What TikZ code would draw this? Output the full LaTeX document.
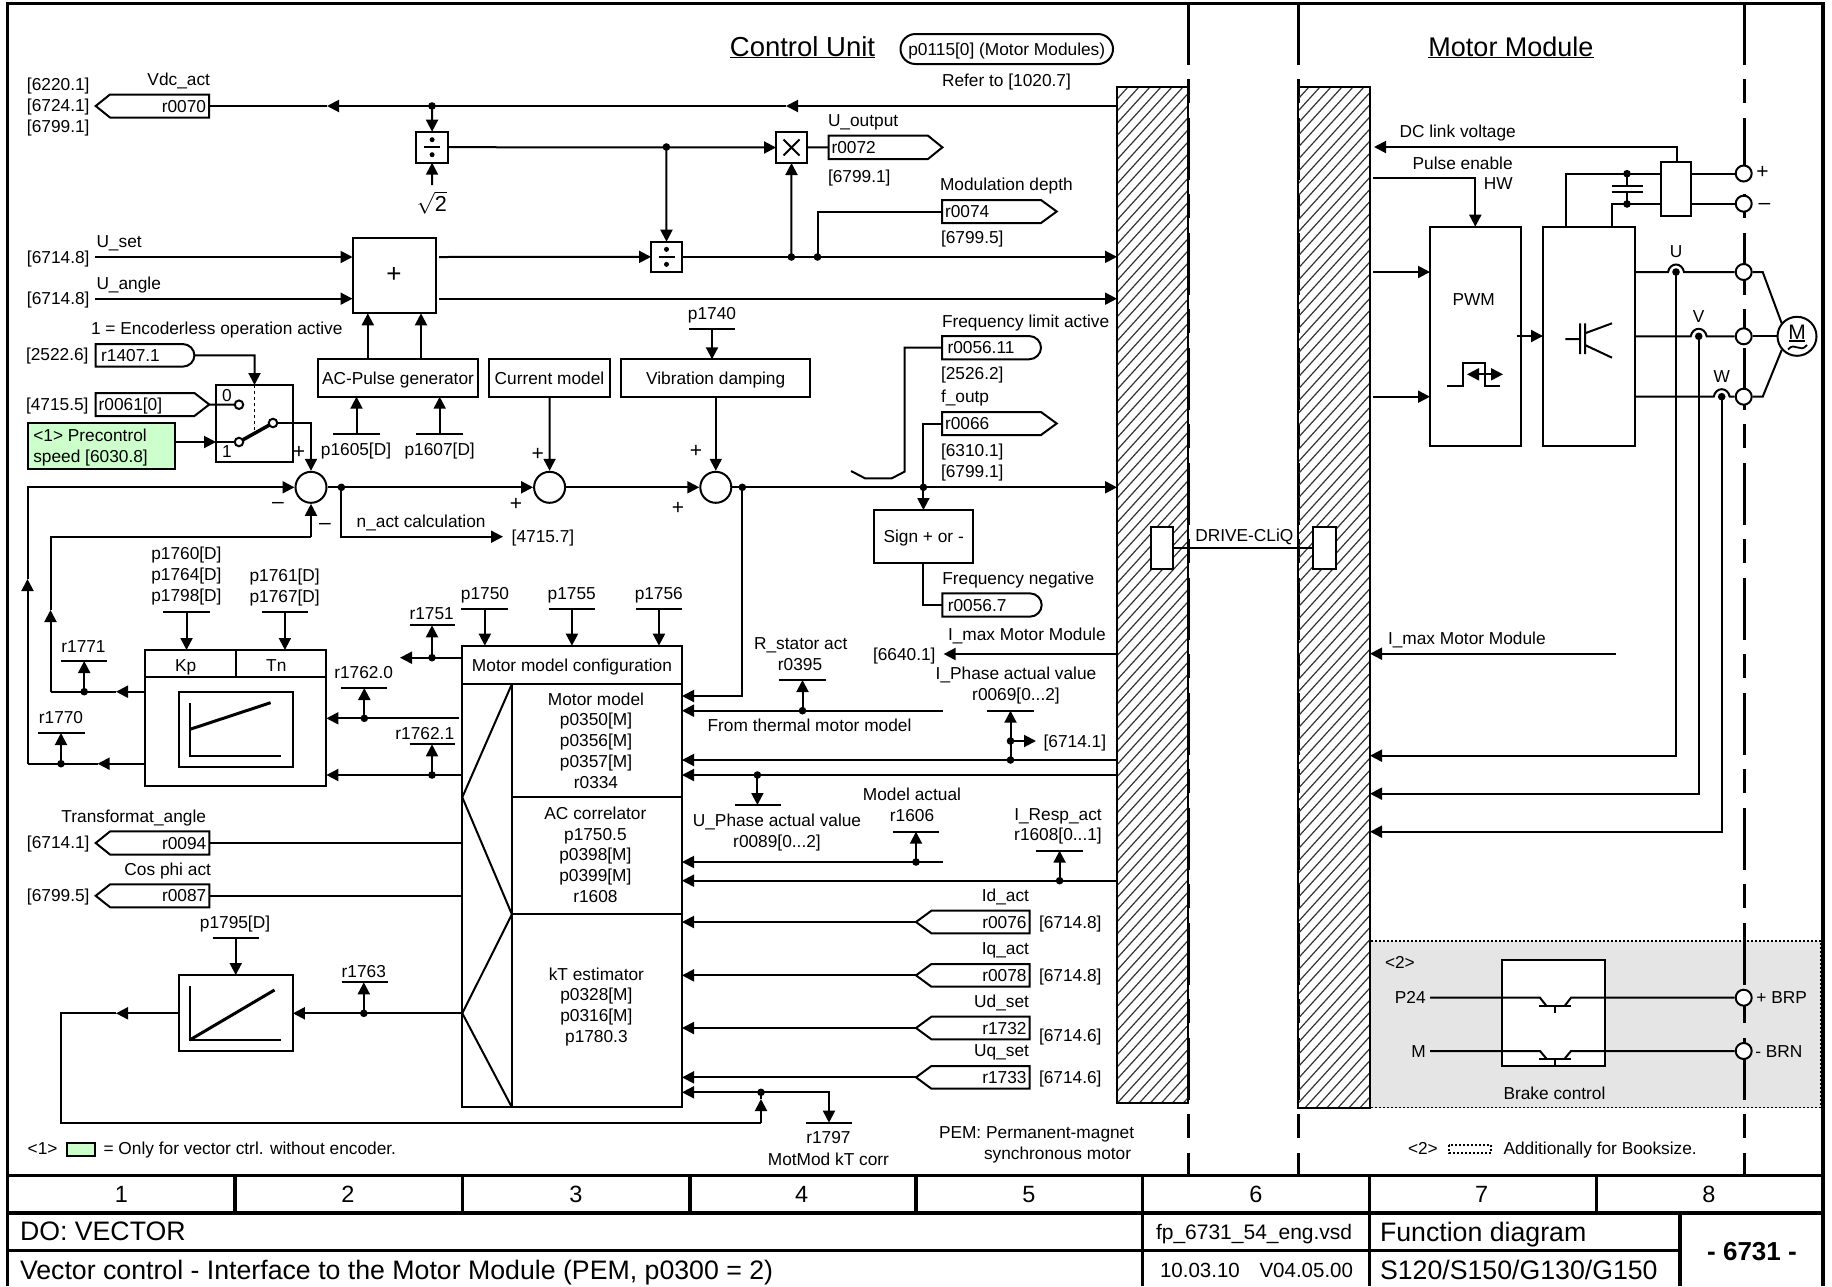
\documentclass[tikz,border=0pt]{standalone}
\usepackage{fontspec}
\setmainfont{Liberation Sans}
\usetikzlibrary{arrows.meta,calc}
\definecolor{grn}{HTML}{CCFFCC}
\definecolor{brk}{HTML}{E5E5E5}
\newcommand\fs{\fontsize{17.3}{20}\selectfont}
\tikzset{
 ln/.style={line width=2pt},
 arr/.style={ln,-{Triangle[length=12pt,width=12pt]}},
 bxs/.style={draw,line width=2pt,fill=white,inner sep=0pt,outer sep=0pt,align=center,font=\fs,text height=12pt,text depth=0pt},
 lbl/.style={font=\fs,inner sep=0pt,outer sep=0pt,text height=12pt,text depth=0pt},
 l/.style={lbl,anchor=west},
 r/.style={lbl,anchor=east},
 sgn/.style={lbl,font=\fontsize{21}{24}\selectfont,text height=14pt},
 ttl/.style={lbl,font=\fontsize{26.7}{30}\selectfont,text height=19pt},
 num/.style={lbl,font=\fontsize{23.5}{28}\selectfont,text height=17pt},
 fr/.style={line width=3.4pt},
 dd/.style={line width=3pt,dash pattern=on 62pt off 14pt on 24pt off 15pt},
 term/.style={circle,draw,line width=2pt,fill=white,minimum size=16pt,inner sep=0pt},
 cont/.style={circle,draw,line width=2pt,fill=white,minimum size=8.5pt,inner sep=0pt},
 sumn/.style={circle,draw,line width=2pt,fill=white,minimum size=31pt,inner sep=0pt},
 hatchl/.style={line width=1.2pt,black!80},
 dotb/.style={line width=1.5pt,dash pattern=on 2pt off 2pt},
}
\newcommand\bx[7][]{\pgfmathsetmacro\cx{(#3+#5)/2}\pgfmathsetmacro\cy{(#4+#6)/2}\pgfmathsetmacro\bw{abs(#5-#3)}\pgfmathsetmacro\bh{abs(#6-#4)}\node[bxs,minimum width=\bw pt,minimum height=\bh pt,#1] (#2) at (\cx,\cy) {#7};}
\newcommand\lb[5][]{\node[lbl,#1] (#2) at (#3,#4) {#5};}
\newcommand\cc[3]{\coordinate (#1) at (#2,#3);}
\newcommand\jn[3]{\coordinate (#1) at (#2,#3);\fill (#1) circle (3.8pt);}
\newcommand\parm[4]{\draw[ln] (#2,#4)--(#3,#4);\coordinate (#1) at ($(#2,#4)!.5!(#3,#4)$);}
% left tag: name tip shoulder right y1 y2 text
\newcommand\tagL[7]{\pgfmathsetmacro\mm{(#5+#6)/2}\draw[ln,fill=white] (#2,\mm)--(#3,#5)--(#4,#5)--(#4,#6)--(#3,#6)--cycle;\coordinate (#1-tip) at (#2,\mm);\coordinate (#1-e) at (#4,\mm);\node[r] (#1) at (#4-3,\mm) {#7};}
\newcommand\tagR[7]{\pgfmathsetmacro\mm{(#5+#6)/2}\draw[ln,fill=white] (#4,\mm)--(#3,#5)--(#2,#5)--(#2,#6)--(#3,#6)--cycle;\coordinate (#1-tip) at (#4,\mm);\coordinate (#1-w) at (#2,\mm);\node[l] (#1) at (#2+3,\mm) {#7};}
\newcommand\tagO[6]{\pgfmathsetmacro\mm{(#4+#5)/2}\draw[ln,fill=white] (#2,#4)--(#3-12,#4) .. controls (#3-5,#4) and (#3,\mm-6) .. (#3,\mm) .. controls (#3,\mm+6) and (#3-5,#5) .. (#3-12,#5)--(#2,#5)--cycle;\coordinate (#1-e) at (#3,\mm);\coordinate (#1-w) at (#2,\mm);\node[l] (#1) at (#2+5.5,\mm) {#6};}
\begin{document}
\begin{tikzpicture}[x=1pt,y=-1pt]
\useasboundingbox (0,0) rectangle (1832,1286);
\fill[white] (0,0) rectangle (1832,1286);
% brake area
\fill[brk] (1370,941) rectangle (1821,1107.7);
\draw[dotb] (1370,941) rectangle (1821,1107.7);
% separators
\draw[dd] (1188,3)--(1188,1176);
\draw[dd] (1298,3)--(1298,1176);
\draw[dd] (1744,3)--(1744,1176);
% hatched bars
\begin{scope}\clip (1117,87) rectangle (1188,1103);
\foreach \i [evaluate=\i as \yy using 87+12.1*\i] in {0,...,95} \draw[hatchl] (1117,\yy)--(1197,\yy-88);
\end{scope}
\begin{scope}\clip (1298,87) rectangle (1370,1107.7);
\foreach \i [evaluate=\i as \yy using 87+12.1*\i] in {0,...,95} \draw[hatchl] (1298,\yy)--(1378,\yy-88);
\end{scope}
\bx[fill=none]{barL}{1117}{87}{1188}{1103}{}
\bx[fill=none]{barR}{1298}{87}{1370}{1107.7}{}
% frame and title block
\draw[fr] (7.5,1286)--(7.5,3.5)--(1823,3.5)--(1823,1286);
\draw[fr] (7.5,1175.7)--(1823,1175.7) (7.5,1213)--(1823,1213) (7.5,1250.7)--(1680,1250.7);
\draw[fr] (235,1175.7)--(235,1213) (462.5,1175.7)--(462.5,1213) (690,1175.7)--(690,1213) (916,1175.7)--(916,1213) (1596.7,1175.7)--(1596.7,1213);
\draw[fr] (1142.5,1175.7)--(1142.5,1286) (1369.5,1175.7)--(1369.5,1286) (1680,1213)--(1680,1286);
\lb[num]{n1}{121.4}{1194}{1}\lb[num]{n2}{348}{1194}{2}\lb[num]{n3}{576}{1194}{3}\lb[num]{n4}{801.6}{1194}{4}\lb[num]{n5}{1029}{1194}{5}\lb[num]{n6}{1256}{1194}{6}\lb[num]{n7}{1481.6}{1194}{7}\lb[num]{n8}{1709}{1194}{8}
\lb[ttl,anchor=west]{tDO}{20}{1231}{DO: VECTOR}
\lb[ttl,anchor=west]{tVC}{20}{1269.5}{Vector control - Interface to the Motor Module (PEM, p0300 = 2)}
\lb[lbl,font=\fontsize{21}{24}\selectfont,text height=15pt,anchor=west]{tFile}{1156}{1232}{fp\_6731\_54\_eng.vsd}
\lb[lbl,font=\fontsize{20.5}{24}\selectfont,text height=15pt,anchor=west]{tDate}{1160}{1270}{10.03.10}
\lb[lbl,font=\fontsize{20.5}{24}\selectfont,text height=15pt,anchor=east]{tVer}{1353}{1270}{V04.05.00}
\lb[ttl,anchor=west]{tFD}{1380}{1231.5}{Function diagram}
\lb[ttl,anchor=west]{tS}{1380}{1269.5}{S120/S150/G130/G150}
\lb[ttl,font=\fontsize{26}{28}\selectfont\bfseries]{tNo}{1752}{1250.7}{- 6731 -}
% headings
\lb[lbl,font=\fontsize{27.5}{30}\selectfont,text height=20pt]{hCU}{802.5}{46}{\underline{Control Unit}}
\lb[lbl,font=\fontsize{27}{30}\selectfont,text height=20pt]{hMM}{1511}{46}{\underline{Motor Module}}
\bx[rounded corners=15pt]{pill}{900.5}{34}{1113}{64}{p0115[0] (Motor Modules)}
\lb{refer}{1006.5}{80}{Refer to [1020.7]}
\lb[l]{lg1}{27.7}{1148.3}{<1>}
\bx[fill=grn]{lgG}{67.4}{1143.3}{94.6}{1155.7}{}
\lb[l]{lg1t}{103.6}{1148.3}{= Only for vector ctrl. without encoder.}
\lb[l]{lg2}{1408}{1148}{<2>}
\draw[dotb] (1448.8,1145) rectangle (1491,1153);
\lb[l]{lg2t}{1503.5}{1148}{Additionally for Booksize.}
\lb[l]{pem1}{939}{1132.3}{PEM: Permanent-magnet}
\lb[l]{pem2}{984}{1153.3}{synchronous motor}
% ---- Vdc branch
\tagL{r70}{95.7}{110}{209}{94.5}{117.5}{r0070}
\lb[l]{s1}{27}{84}{[6220.1]}\lb[l]{s2}{27}{105}{[6724.1]}\lb[l]{s3}{27}{126}{[6799.1]}
\lb[r]{vdc}{210}{79}{Vdc\_act}
\bx{divA}{416.4}{131.7}{447.8}{162.7}{}
\bx{mulX}{776}{132}{807}{163}{}
\bx{divB}{651}{241.7}{682}{272}{}
\draw[ln,shorten <=0pt] ($(mulX.center)+(-8,-8)$)--($(mulX.center)+(8,8)$) ($(mulX.center)+(-8,8)$)--($(mulX.center)+(8,-8)$);
\foreach \d in {divA,divB} {\draw[ln] ($(\d.center)+(-8,0)$)--($(\d.center)+(8,0)$);\fill ($(\d.center)+(0,-7.5)$) circle (2.5pt) ($(\d.center)+(0,7.5)$) circle (2.5pt);}
\jn{dVdc}{432}{106}
\cc{mA}{786}{106}\cc{mB}{327}{106}
\draw[arr] (barL.west |- dVdc)--(mA);\draw[arr] (mA)--(mB);\draw[ln] (mB)--(r70-e);
\draw[arr] (dVdc)--(divA.north);
\cc{sq}{432}{185}
\draw[arr] (sq)--(divA.south);
\lb[scale=1.25]{sq2}{432}{204}{$\sqrt{\mbox{2}}$}
\jn{dDiv}{666.4}{147}
\draw[arr] (divA.east)--(mulX.west);
\draw[arr] (dDiv)--(divB.north);
\tagR{r72}{828.5}{928}{942.4}{135.7}{159}{r0072}
\draw[ln] (mulX.east)--(r72-w);
\lb[l]{uout}{828}{120}{U\_output}
\lb[l]{uoutr}{828}{176.7}{[6799.1]}
% ---- plus block
\bx{plusB}{352.5}{238}{436}{313.3}{}
\lb[lbl,font=\fontsize{26}{28}\selectfont]{plusT}{394}{276}{+}
\cc{us}{95}{257}\cc{ua}{95}{298.7}
\draw[arr] (us)--(us -| plusB.west);
\draw[arr] (ua)--(ua -| plusB.west);
\lb[l]{us1}{27}{257}{[6714.8]}\lb[l]{ua1}{27}{298}{[6714.8]}
\lb[l]{us2}{96.5}{241}{U\_set}\lb[l]{ua2}{96.5}{283}{U\_angle}
\cc{pe1}{439}{257}\cc{pe2}{439}{298.7}
\draw[arr] (pe1)--(divB.west);
\draw[arr] (pe2)--(pe2 -| barL.west);
\jn{dU1}{791.4}{257}\jn{dU2}{817.5}{257}
\draw[arr] (divB.east)--(divB.east -| barL.west);
\draw[arr] (dU1)--(mulX.south);
\tagR{r74}{942}{1041}{1056.7}{200}{223}{r0074}
\draw[ln] (dU2)--(dU2 |- r74-w)--(r74-w);
\lb[l]{md}{940}{184}{Modulation depth}
\lb[l]{mdr}{941}{237.7}{[6799.5]}
% ---- switch
\lb[l]{enc}{91}{328}{1 = Encoderless operation active}
\lb[l]{r14a}{26}{354}{[2522.6]}
\tagO{r14}{95.7}{194.4}{344}{366.7}{r1407.1}
\lb[l]{r61a}{26}{404}{[4715.5]}
\tagR{r61}{95.7}{194.4}{209.3}{393}{416}{r0061[0]}
\bx{sw}{216}{385}{292.8}{461.7}{}
\lb{sw0}{227}{395}{0}\lb{sw1}{227}{451.7}{1}
\draw[arr] (r14-e)--(254.5,355.35)--(sw.north -| 254.5,0);
\draw[line width=1.5pt,dashed] (sw.north -| 254.5,0)--(254.5,430);
\cc{cUp}{239}{404.7}\cc{cLow}{239}{442}\cc{cPiv}{273}{423}
\bx[fill=grn,text height=0pt]{green}{27.5}{423}{175.3}{469}{}
\lb[l]{gr1}{33.3}{435}{<1> Precontrol}\lb[l]{gr2}{33.3}{456}{speed [6030.8]}
\draw[ln] (r61-tip)--(cUp);
\draw[arr] (green.east |- cLow)--(sw.west |- cLow);
\draw[ln] (sw.west |- cLow)--(cLow);
\draw[line width=3.5pt] (cLow)--(cPiv);
\node[cont] (kUp) at (cUp) {};\node[cont] (kLow) at (cLow) {};\node[cont] (kPiv) at (cPiv) {};
\lb[sgn]{swp}{299}{451.7}{+}
% ---- sums
\node[sumn] (sumA) at (311,487.3) {};
\node[sumn] (sumB) at (549.6,487.3) {};
\node[sumn] (sumC) at (715.8,487.3) {};
\draw[arr] (kPiv)--(kPiv -| sumA)--(sumA.north);
\bx{acp}{318.4}{359.3}{477.6}{396.7}{AC-Pulse generator}
\bx{cur}{489}{359.3}{610}{396.7}{Current model}
\bx{vib}{621}{359.3}{810.4}{396.7}{Vibration damping}
\draw[arr] (367.8,359.3)--(367.8,313.3);
\draw[arr] (421,359.3)--(421,313.3);
\parm{b1605}{333}{380}{434}\parm{b1607}{416.4}{463}{434}
\draw[arr] (b1605)--(b1605 |- acp.south);\draw[arr] (b1607)--(b1607 |- acp.south);
\lb{t1605}{356}{449}{p1605[D]}\lb{t1607}{439.7}{449}{p1607[D]}
\draw[arr] (cur.south)--(sumB.north);
\parm{b1740}{689}{735}{329}
\lb{t1740}{712}{313}{p1740}
\draw[arr] (b1740)--(b1740 |- vib.north);
\draw[arr] (vib.south -| sumC)--(sumC.north);
\lb[sgn]{pB}{537.7}{453}{+}\lb[sgn]{pB2}{516}{503}{+}\lb[sgn]{pC}{696}{450}{+}\lb[sgn]{pC2}{678}{507}{+}
\lb[sgn]{mA1}{278}{501.7}{--}\lb[sgn]{mA2}{325}{522}{--}
\jn{dN}{341.4}{487.3}\jn{dSc}{742.3}{487.3}\jn{dOut}{923.4}{487.3}
\draw[ln] (sumA.east)--(dN);\draw[arr] (dN)--(sumB.west);
\draw[arr] (sumB.east)--(sumC.west);
\draw[arr] (sumC.east)--(sumC.east -| barL.west);
\cc{na}{341.4}{536.7}\cc{naT}{503}{536.7}
\draw[arr] (dN)--(na)--(naT);
\lb[l]{nat}{356.7}{521.7}{n\_act calculation}
\lb[l]{nar}{511.7}{536}{[4715.7]}
% ---- right side of control unit
\lb[l]{fl}{942}{321.7}{Frequency limit active}
\tagO{r5611}{942}{1041}{336}{359.3}{r0056.11}
\lb[l]{flr}{941}{373.3}{[2526.2]}
\lb[l]{fo}{941}{396.7}{f\_outp}
\tagR{r66}{942}{1041}{1056.7}{412}{435}{r0066}
\lb[l]{r66a}{941}{450.7}{[6310.1]}\lb[l]{r66b}{941}{471.3}{[6799.1]}
\draw[ln] (r5611-w)--(904.5,347.65)--(904.5,471.7)--(891.8,478.3)--(865,478.3)--(851,471);
\bx{sgnb}{874}{510}{973.3}{563.3}{Sign + or -}
\draw[ln] (r66-w)--(r66-w -| dOut)--(dOut);
\draw[arr] (dOut)--(sgnb.north -| dOut);
\tagO{r567}{942.3}{1041.7}{593.3}{616.7}{r0056.7}
\lb[l]{fn}{942.3}{578.3}{Frequency negative}
\draw[ln] (sgnb.south -| dOut)--(dOut |- r567-w)--(r567-w);
% ---- DRIVE-CLiQ
\bx{dqL}{1150.7}{527.3}{1173.3}{569}{}
\bx{dqR}{1313.3}{527.3}{1335.7}{569}{}
\draw[ln] (dqL.east |- 0,547.7)--(dqR.west |- 0,547.7);
\lb{dq}{1244.3}{535}{DRIVE-CLiQ}
% ---- motor model block
\bx{mm}{462.3}{645.7}{682}{1107.3}{}
\draw[ln] (462.3,684)--(682,684) (511.9,797.3)--(682,797.3) (511.9,914.3)--(682,914.3) (511.9,684)--(511.9,1107.3);
\draw[ln] (511.9,684)--(462.3,797.3)--(511.9,914.3)--(462.3,1013.3)--(511.9,1107.3);
\lb{mmh}{572}{665}{Motor model configuration}
\lb{m1}{596}{699.3}{Motor model}\lb{m2}{596}{719.7}{p0350[M]}\lb{m3}{596}{740.3}{p0356[M]}\lb{m4}{596}{761.3}{p0357[M]}\lb{m5}{596}{782}{r0334}
\lb{a1}{595.4}{813.3}{AC correlator}\lb{a2}{595.4}{834.3}{p1750.5}\lb{a3}{595.4}{854.7}{p0398[M]}\lb{a4}{595.4}{875.3}{p0399[M]}\lb{a5}{595.4}{896}{r1608}
\lb{k1}{596.4}{974.7}{kT estimator}\lb{k2}{596.4}{994.7}{p0328[M]}\lb{k3}{596.4}{1015.7}{p0316[M]}\lb{k4}{596.4}{1036.3}{p1780.3}
\parm{b1750}{461.4}{508.3}{608.7}\parm{b1755}{548.5}{595.4}{608.7}\parm{b1756}{635.5}{682.4}{608.7}
\lb{t1750}{485}{593.3}{p1750}\lb{t1755}{571.7}{593.3}{p1755}\lb{t1756}{658.8}{593.3}{p1756}
\draw[arr] (b1750)--(b1750 |- mm.north);\draw[arr] (b1755)--(b1755 |- mm.north);\draw[arr] (b1756)--(b1756 |- mm.north);
% inputs at the right of the model
\cc{i0}{742.3}{696}
\draw[arr] (dSc)--(i0)--(i0 -| mm.east);
\jn{dR}{802.5}{710.7}\cc{i1}{943}{710.7}
\draw[arr] (i1)--(i1 -| mm.east);
\parm{bR}{779}{826}{680}
\draw[arr] (dR)--(dR |- bR);
\lb{tR}{800}{664.3}{r0395}\lb{tR2}{800.7}{643.3}{R\_stator act}
\lb{tR3}{809.5}{725.7}{From thermal motor model}
\jn{dI}{1010.5}{760}\jn{dI2}{1010.5}{741}
\draw[arr] (dI -| barL.west)--(dI -| mm.east);
\parm{bI}{987.3}{1033.7}{710.7}
\draw[arr] (dI)--(dI |- bI);
\cc{iT}{1036}{741}\draw[arr] (dI2)--(iT);
\lb[l]{tI}{1043.6}{741}{[6714.1]}
\lb{tI2}{1016}{694.3}{r0069[0...2]}\lb{tI3}{1016}{673.3}{I\_Phase actual value}
\cc{im}{943.6}{654}
\draw[arr] (im -| barL.west)--(im);
\lb[l]{tm}{873}{654}{[6640.1]}
\lb[l]{tm2}{948}{634.3}{I\_max Motor Module}
\jn{dUp}{757.4}{775}
\draw[arr] (dUp -| barL.west)--(dUp -| mm.east);
\parm{bUp}{734.6}{780.6}{805}
\draw[arr] (dUp)--(dUp |- bUp);
\lb{tUp}{777}{820}{U\_Phase actual value}\lb{tUp2}{777}{841.7}{r0089[0...2]}
\jn{dMa}{916}{862}\cc{iMa}{943}{862}
\draw[arr] (iMa)--(iMa -| mm.east);
\parm{bMa}{893}{939}{831.7}
\draw[arr] (dMa)--(dMa |- bMa);
\lb{tMa}{912}{815}{r1606}\lb{tMa2}{912}{794}{Model actual}
\jn{dIr}{1059.6}{880.7}
\draw[arr] (dIr -| barL.west)--(dIr -| mm.east);
\parm{bIr}{1036}{1083}{850.7}
\draw[arr] (dIr)--(dIr |- bIr);
\lb{tIr}{1058}{834.3}{r1608[0...1]}\lb{tIr2}{1058}{814}{I\_Resp\_act}
\tagL{r76}{916}{931.4}{1029.5}{910.7}{933.3}{r0076}
\tagL{r78}{916}{931.4}{1029.5}{964}{986.7}{r0078}
\tagL{r32}{916}{931.4}{1029.5}{1016.7}{1039.3}{r1732}
\tagL{r33}{916}{931.4}{1029.5}{1066}{1088.7}{r1733}
\draw[arr] (r76-tip)--(r76-tip -| mm.east);\draw[arr] (r78-tip)--(r78-tip -| mm.east);\draw[arr] (r32-tip)--(r32-tip -| mm.east);\draw[arr] (r33-tip)--(r33-tip -| mm.east);
\lb[r]{t76}{1029}{895}{Id\_act}\lb[r]{t78}{1029}{948}{Iq\_act}\lb[r]{t32}{1029}{1001.7}{Ud\_set}\lb[r]{t33}{1029}{1050.7}{Uq\_set}
\lb[l]{x76}{1039}{922}{[6714.8]}\lb[l]{x78}{1039}{975}{[6714.8]}\lb[l]{x32}{1039}{1035}{[6714.6]}\lb[l]{x33}{1039}{1077}{[6714.6]}
% ---- PI controller
\bx{pi}{144.7}{650}{326.4}{786}{}
\draw[ln] (144.7,676.7)--(326.4,676.7) (235.7,650)--(235.7,676.7);
\lb{kp}{185.6}{665}{Kp}\lb{tn}{276.3}{665}{Tn}
\bx{piI}{178.7}{691.7}{292.8}{767.3}{}
\draw[ln] (190,702.7)--(190,756)--(281.3,756);
\draw[line width=3pt] (190,729.3)--(270.6,702.7);
\lb{p60}{186.4}{553}{p1760[D]}\lb{p64}{186.4}{574.7}{p1764[D]}\lb{p98}{186.4}{595.7}{p1798[D]}
\lb{p61}{284.7}{575.7}{p1761[D]}\lb{p67}{284.7}{596.7}{p1767[D]}
\parm{bKp}{163.4}{209.7}{612.3}\parm{bTn}{261.8}{308}{612.3}
\draw[arr] (bKp)--(bKp |- pi.north);\draw[arr] (bTn)--(bTn |- pi.north);
% outputs of PI
\cc{fa}{27.5}{763.7}\cc{faA}{97.6}{763.7}\cc{faU}{27.5}{579}
\jn{d70}{61}{763.7}
\draw[arr] (fa -| pi.west)--(faA);\draw[ln] (faA)--(fa);
\draw[arr] (fa)--(faU);
\draw[arr] (faU)--(27.5,487.3)--(sumA.west);
\parm{b70}{38}{85}{733}\lb{t70}{61}{717}{r1770}
\draw[arr] (d70)--(d70 |- b70);
\cc{fb}{50.5}{691.7}\cc{fbA}{116}{691.7}\cc{fbU}{50.5}{610}
\jn{d71}{84.2}{691.7}
\draw[arr] (fb -| pi.west)--(fbA);\draw[ln] (fbA)--(fb);
\draw[arr] (fb)--(fbU);
\draw[ln] (fbU)--(50.5,536.7)--(311,536.7);
\draw[arr] (311,536.7)--(sumA.south);
\parm{b71}{61}{107}{661}\lb{t71}{83.5}{646}{r1771}
\draw[arr] (d71)--(d71 |- b71);
% inputs of PI
\jn{d51}{432}{657.7}\cc{a51}{400}{657.7}
\draw[arr] (d51 -| mm.west)--(a51);
\parm{b51}{409.5}{455.4}{625.3}\lb{t51}{431.7}{613.3}{r1751}
\draw[arr] (d51)--(d51 |- b51);
\jn{d620}{364.3}{718.3}\cc{s620}{459}{718.3}
\draw[arr] (s620)--(s620 -| pi.east);
\parm{b620}{341.4}{387.3}{688}\lb{t620}{363.6}{672.3}{r1762.0}
\draw[arr] (d620)--(d620 |- b620);
\jn{d621}{432}{775}
\draw[arr] (d621 -| mm.west)--(d621 -| pi.east);
\parm{b621}{409.5}{455.4}{744.3}\lb{t621}{424.8}{733.3}{r1762.1}
\draw[arr] (d621)--(d621 |- b621);
% r0094 r0087
\tagL{r94}{95.7}{110.2}{209.3}{831.3}{854.7}{r0094}
\tagL{r87}{95.7}{110.2}{209.3}{884.3}{907.3}{r0087}
\draw[ln] (r94-e)--(r94-e -| mm.west);
\draw[ln] (r87-e)--(r87-e -| mm.west);
\lb[l]{x94}{27}{842}{[6714.1]}\lb[l]{x87}{27}{895}{[6799.5]}
\lb[r]{n94}{206}{816.7}{Transformat\_angle}
\lb[r]{n87}{211}{869.3}{Cos phi act}
% ---- kT ramp block
\bx{kt}{178.6}{975}{292.9}{1051}{}
\draw[ln] (189.7,986)--(189.7,1040)--(281,1040);
\draw[line width=3pt] (189.7,1040)--(274.5,990);
\parm{b95}{212.5}{259}{937.7}\lb{t95}{235}{922.7}{p1795[D]}
\draw[arr] (b95)--(b95 |- kt.north);
\cc{kMid}{462.5}{1013.3}
\jn{d63}{363.8}{1013.3}
\draw[arr] (kMid)--(kMid -| kt.east);
\parm{b63}{341.5}{387.5}{982.3}\lb{t63}{363.8}{971}{r1763}
\draw[arr] (d63)--(d63 |- b63);
\cc{kA}{116}{1013.3}\cc{kL}{61.2}{1013.3}\cc{kB}{61.2}{1122.5}\cc{kC}{761}{1122.5}\cc{kU}{761}{1099}
\draw[arr] (kMid -| kt.west)--(kA);
\draw[ln] (kA)--(kL)--(kB)--(kC);
\draw[arr] (kC)--(kU);
\jn{d97}{761}{1092.3}
\draw[ln] (kU)--(d97);
\parm{b97}{806}{852}{1122.7}
\draw[arr] (d97)--(d97 -| b97)--(b97);
\draw[arr] (d97)--(d97 -| mm.east);
\lb{t97}{828.4}{1137.7}{r1797}\lb{t97b}{828.4}{1159.3}{MotMod kT corr}
% ---- motor module
\lb[l]{dcl}{1399.5}{131}{DC link voltage}
\lb[r]{pe}{1512.7}{163.3}{Pulse enable}\lb[r]{hw}{1512.7}{183.3}{HW}
\bx{pwm}{1430}{226.7}{1521.3}{445.7}{}
\bx{inv}{1543}{226.7}{1634.5}{445.7}{}
\lb{pwmT}{1473.7}{299}{PWM}
\cc{pe0}{1373}{177.7}\cc{pe1b}{1475.3}{177.7}
\draw[arr] (pe0)--(pe1b)--(pe1b |- pwm.north);
\cc{pw1}{1373}{272}\cc{pw2}{1373}{396.7}
\draw[arr] (pw1)--(pw1 -| pwm.west);\draw[arr] (pw2)--(pw2 -| pwm.west);
\cc{pi2}{1516.6}{336}
\draw[arr] (pi2)--(pi2 -| inv.west);
\draw[ln] (1447,385.7)--(1462.8,385.7)--(1462.8,362.7)--(1485.4,362.7)--(1485.4,385.7)--(1500,385.7);
\cc{sy}{1485}{374.3}
\draw[arr] (sy)--(1467,374.3);\draw[arr] (sy)--(1503,374.3);
\draw[ln] (1565.4,339)--(1580,339) (1580,323.3)--(1580,354) (1585,323.3)--(1585,354) (1585,333.3)--(1612,323.3) (1585,345)--(1612,357.7);
% DC link
\bx{dcr}{1661}{162.3}{1691}{215.7}{}
\node[term] (tP) at (1743.7,173.5) {};
\node[term] (tM) at (1743.7,203.7) {};
\node[term] (tU) at (1743.7,272) {};
\node[term] (tV) at (1743.7,336.3) {};
\node[term] (tW) at (1743.7,396.7) {};
\lb[sgn]{plusS}{1762.5}{171.7}{+}\lb[sgn]{minusS}{1764.5}{202.7}{--}
\jn{cA}{1627}{173.7}\jn{cB}{1627}{204}
\cc{iT1}{1566}{173.7}\cc{iT2}{1611.5}{204}
\draw[ln] (inv.north -| iT1)--(iT1)--(iT1 -| dcr.west);
\draw[ln] (inv.north -| iT2)--(iT2)--(iT2 -| dcr.west);
\draw[ln] (cA)--(1627,186) (cB)--(1627,192.3) (1611.5,186)--(1642.7,186) (1611.5,192.3)--(1642.7,192.3);
\draw[ln] (tP)--(tP -| dcr.east) (tM)--(tM -| dcr.east);
\cc{dcu}{1676.7}{147}\cc{dcA}{1374}{147}
\draw[arr] (dcr.north -| dcu)--(dcu)--(dcA);
% phases
\jn{dPU}{1676}{272}\jn{dPV}{1698.7}{336.3}\jn{dPW}{1721.7}{396.7}
\foreach \n/\t in {dPU/tU,dPV/tV,dPW/tW}{\draw[ln] (inv.east |- \n)--($(\n)+(-8,0)$) .. controls ($(\n)+(-6,-10)$) and ($(\n)+(6,-10)$) .. ($(\n)+(8,0)$)--(\t);}
\lb{tUl}{1676}{251.7}{U}\lb{tVl}{1698.7}{316.7}{V}\lb{tWl}{1721.7}{376.7}{W}
\cc{pU}{1676}{755.7}\cc{pV}{1698.7}{793.7}\cc{pW}{1721.7}{831.7}
\draw[arr] (dPU)--(pU)--(pU -| barR.east);
\draw[arr] (dPV)--(pV)--(pV -| barR.east);
\draw[arr] (dPW)--(pW)--(pW -| barR.east);
\cc{im2}{1616}{653.7}
\draw[arr] (im2)--(im2 -| barR.east);
\lb[l]{im2t}{1388}{638}{I\_max Motor Module}
% motor
\node[circle,draw,line width=2pt,fill=white,minimum size=39pt,inner sep=0pt] (mot) at (1797,336.3) {};
\lb[lbl,font=\fontsize{21}{24}\selectfont,text height=15pt]{motM}{1797}{331.5}{M}
\draw[line width=1.5pt] (1789,341)--(1805,341);
\draw[line width=1.8pt] (1788,349.5) .. controls (1795,341) and (1800,354) .. (1807,345);
\draw[ln] (tV)--(mot.west);
\draw[ln] (tU)--(1762.7,272)--(1781.7,323.3);
\draw[ln] (tW)--(1762.7,396.7)--(1781.7,350);
% brake
\lb[l]{b2}{1385}{962}{<2>}
\bx{brk}{1501.6}{960}{1604.7}{1066}{}
\node[term] (tBP) at (1743.7,997.7) {};
\node[term] (tBN) at (1743.7,1051) {};
\lb[r]{p24}{1425.7}{997.7}{P24}\lb[r]{bm}{1425.7}{1051}{M}
\cc{bP}{1430}{997.7}\cc{bN}{1430}{1051}
\draw[ln] (bP)--(1540,997.7)--(1546.5,1006) (1564.6,1006)--(1571,997.7)--(tBP);
\draw[ln] (1539.4,1006)--(1571,1006) (1555,1006)--(1555,1013.3);
\draw[ln] (bN)--(1540,1051)--(1546.5,1058.7) (1564.6,1058.7)--(1571,1051)--(tBN);
\draw[ln] (1539.4,1058.7)--(1571,1058.7) (1555,1058.7)--(1555,1066);
\lb[l]{bp}{1756.4}{997.7}{+ BRP}\lb[l]{bn}{1755.3}{1051}{- BRN}
\lb{bc}{1554.5}{1093}{Brake control}
\end{tikzpicture}
\end{document}
